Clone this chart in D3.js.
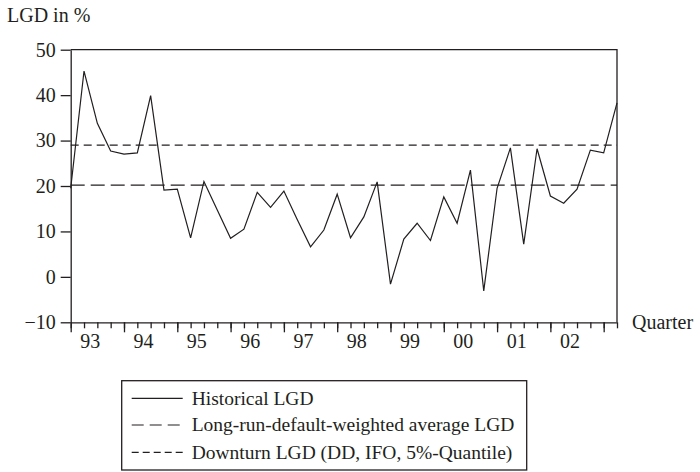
<!DOCTYPE html>
<html>
<head>
<meta charset="utf-8">
<script src="https://cdn.jsdelivr.net/npm/d3@7"></script>
<style>
  html, body { margin: 0; padding: 0; background: #fff; }
</style>
</head>
<body>
<svg id="chart" width="700" height="472"></svg>
<script>
// ---- data ----
const quarters = [
  "93Q1","93Q2","93Q3","93Q4","94Q1","94Q2","94Q3","94Q4",
  "95Q1","95Q2","95Q3","95Q4","96Q1","96Q2","96Q3","96Q4",
  "97Q1","97Q2","97Q3","97Q4","98Q1","98Q2","98Q3","98Q4",
  "99Q1","99Q2","99Q3","99Q4","00Q1","00Q2","00Q3","00Q4",
  "01Q1","01Q2","01Q3","01Q4","02Q1","02Q2","02Q3","02Q4",
  "03Q1","03Q2"
];
const historicalLGD = [
  19.5, 45.3, 33.8, 27.7, 27.0, 27.3, 39.9, 19.1,
  19.3, 8.6, 21.0, 14.7, 8.5, 10.5, 18.6, 15.3,
  18.9, 12.6, 6.6, 10.3, 18.2, 8.6, 13.2, 20.9,
  -1.6, 8.3, 11.8, 8.0, 17.6, 11.8, 23.5, -3.1,
  19.5, 28.4, 7.2, 28.2, 17.8, 16.2, 19.3, 27.9,
  27.3, 38.3
];
const longRunAverage = 20.2;
const downturnLGD = 29.0;
const yearLabels = ["93","94","95","96","97","98","99","00","01","02"];
const yTicks = [-10, 0, 10, 20, 30, 40, 50];
const legendLabels = [
  "Historical LGD",
  "Long-run-default-weighted average LGD",
  "Downturn LGD (DD, IFO, 5%-Quantile)"
];

(function () {
// ---- layout ----
const ink = "#231f20";
const FONT = "'Liberation Serif', 'Times New Roman', Times, 'DejaVu Serif', serif";
const svg = d3.select("#chart");
const pL = 70.7, pR = 617, pT = 49.7, pB = 322.3;

const x = d3.scaleLinear().domain([0, quarters.length - 1]).range([pL, pR]);
const y = d3.scaleLinear().domain([-10, 50]).range([pB, pT]);

// frame (top & right)
svg.append("path")
  .attr("d", `M${pL},${pT}H${pR}V${pB}`)
  .attr("fill", "none").attr("stroke", ink).attr("stroke-width", 1.3);

// y axis
const yAxis = svg.append("g")
  .attr("transform", `translate(${pL},0)`)
  .call(d3.axisLeft(y).tickValues(yTicks).tickSize(10).tickSizeOuter(0).tickPadding(5)
    .tickFormat(d => d < 0 ? "\u2212" + Math.abs(d) : String(d)));
yAxis.attr("font-family", FONT).attr("font-size", 20);
yAxis.selectAll("path,line").attr("stroke", ink).attr("stroke-width", 1.3);
yAxis.selectAll("text").attr("fill", ink);

// x axis minor ticks (every quarter)
const minorIdx = quarters.map((q, i) => i);
const xMinor = svg.append("g")
  .attr("transform", `translate(0,${pB})`)
  .call(d3.axisBottom(x).tickValues(minorIdx).tickSize(6).tickSizeOuter(0).tickFormat(""));
xMinor.selectAll("path,line").attr("stroke", ink).attr("stroke-width", 1.3);

// x axis major ticks (year starts)
const majorIdx = quarters.map((q, i) => i).filter(i => i % 4 === 0);
const xMajor = svg.append("g")
  .attr("transform", `translate(0,${pB})`)
  .call(d3.axisBottom(x).tickValues(majorIdx).tickSize(10).tickSizeOuter(0).tickFormat(""));
xMajor.select(".domain").remove();
xMajor.selectAll("line").attr("stroke", ink).attr("stroke-width", 1.3);

// year labels
const labelPos = yearLabels.map((l, k) => k * 4 + 1.43);
const xLab = svg.append("g")
  .attr("transform", `translate(0,${pB})`)
  .call(d3.axisBottom(x).tickValues(labelPos).tickSize(0).tickPadding(12)
    .tickFormat((d, i) => yearLabels[i]));
xLab.attr("font-family", FONT).attr("font-size", 20);
xLab.select(".domain").remove();
xLab.selectAll("text").attr("fill", ink);

// axis titles
svg.append("text").attr("x", 7).attr("y", 22).attr("font-size", 20)
  .attr("font-family", FONT).attr("fill", ink).text("LGD in %");
svg.append("text").attr("x", 632).attr("y", 329).attr("font-size", 20)
  .attr("font-family", FONT).attr("fill", ink).text("Quarter");

// reference lines
svg.append("line")
  .attr("x1", pL).attr("x2", pR).attr("y1", y(longRunAverage)).attr("y2", y(longRunAverage))
  .attr("stroke", ink).attr("stroke-width", 1.2).attr("stroke-dasharray", "14,6");
svg.append("line")
  .attr("x1", pL).attr("x2", pR).attr("y1", y(downturnLGD)).attr("y2", y(downturnLGD))
  .attr("stroke", ink).attr("stroke-width", 1.2).attr("stroke-dasharray", "8,5");

// historical line
svg.append("path")
  .datum(historicalLGD)
  .attr("fill", "none").attr("stroke", ink).attr("stroke-width", 1.2)
  .attr("stroke-linejoin", "miter")
  .attr("d", d3.line().x((d, i) => x(i)).y(d => y(d)));

// legend
const lg = svg.append("g").attr("font-family", FONT).attr("font-size", 19.5);
lg.append("rect").attr("x", 121.7).attr("y", 380.7).attr("width", 405).attr("height", 89.3)
  .attr("fill", "none").attr("stroke", ink).attr("stroke-width", 1.3);
const dashes = [null, "12,6", "7,4"];
const rowY = [398.3, 425, 452.3];
legendLabels.forEach((t, i) => {
  lg.append("line").attr("x1", 131.7).attr("x2", 182.7).attr("y1", rowY[i]).attr("y2", rowY[i])
    .attr("stroke", ink).attr("stroke-width", 1.2)
    .attr("stroke-dasharray", dashes[i]);
  lg.append("text").attr("x", 191.7).attr("y", rowY[i]).attr("dy", "0.33em")
    .attr("fill", ink).text(t);
});
})();
</script>
</body>
</html>
